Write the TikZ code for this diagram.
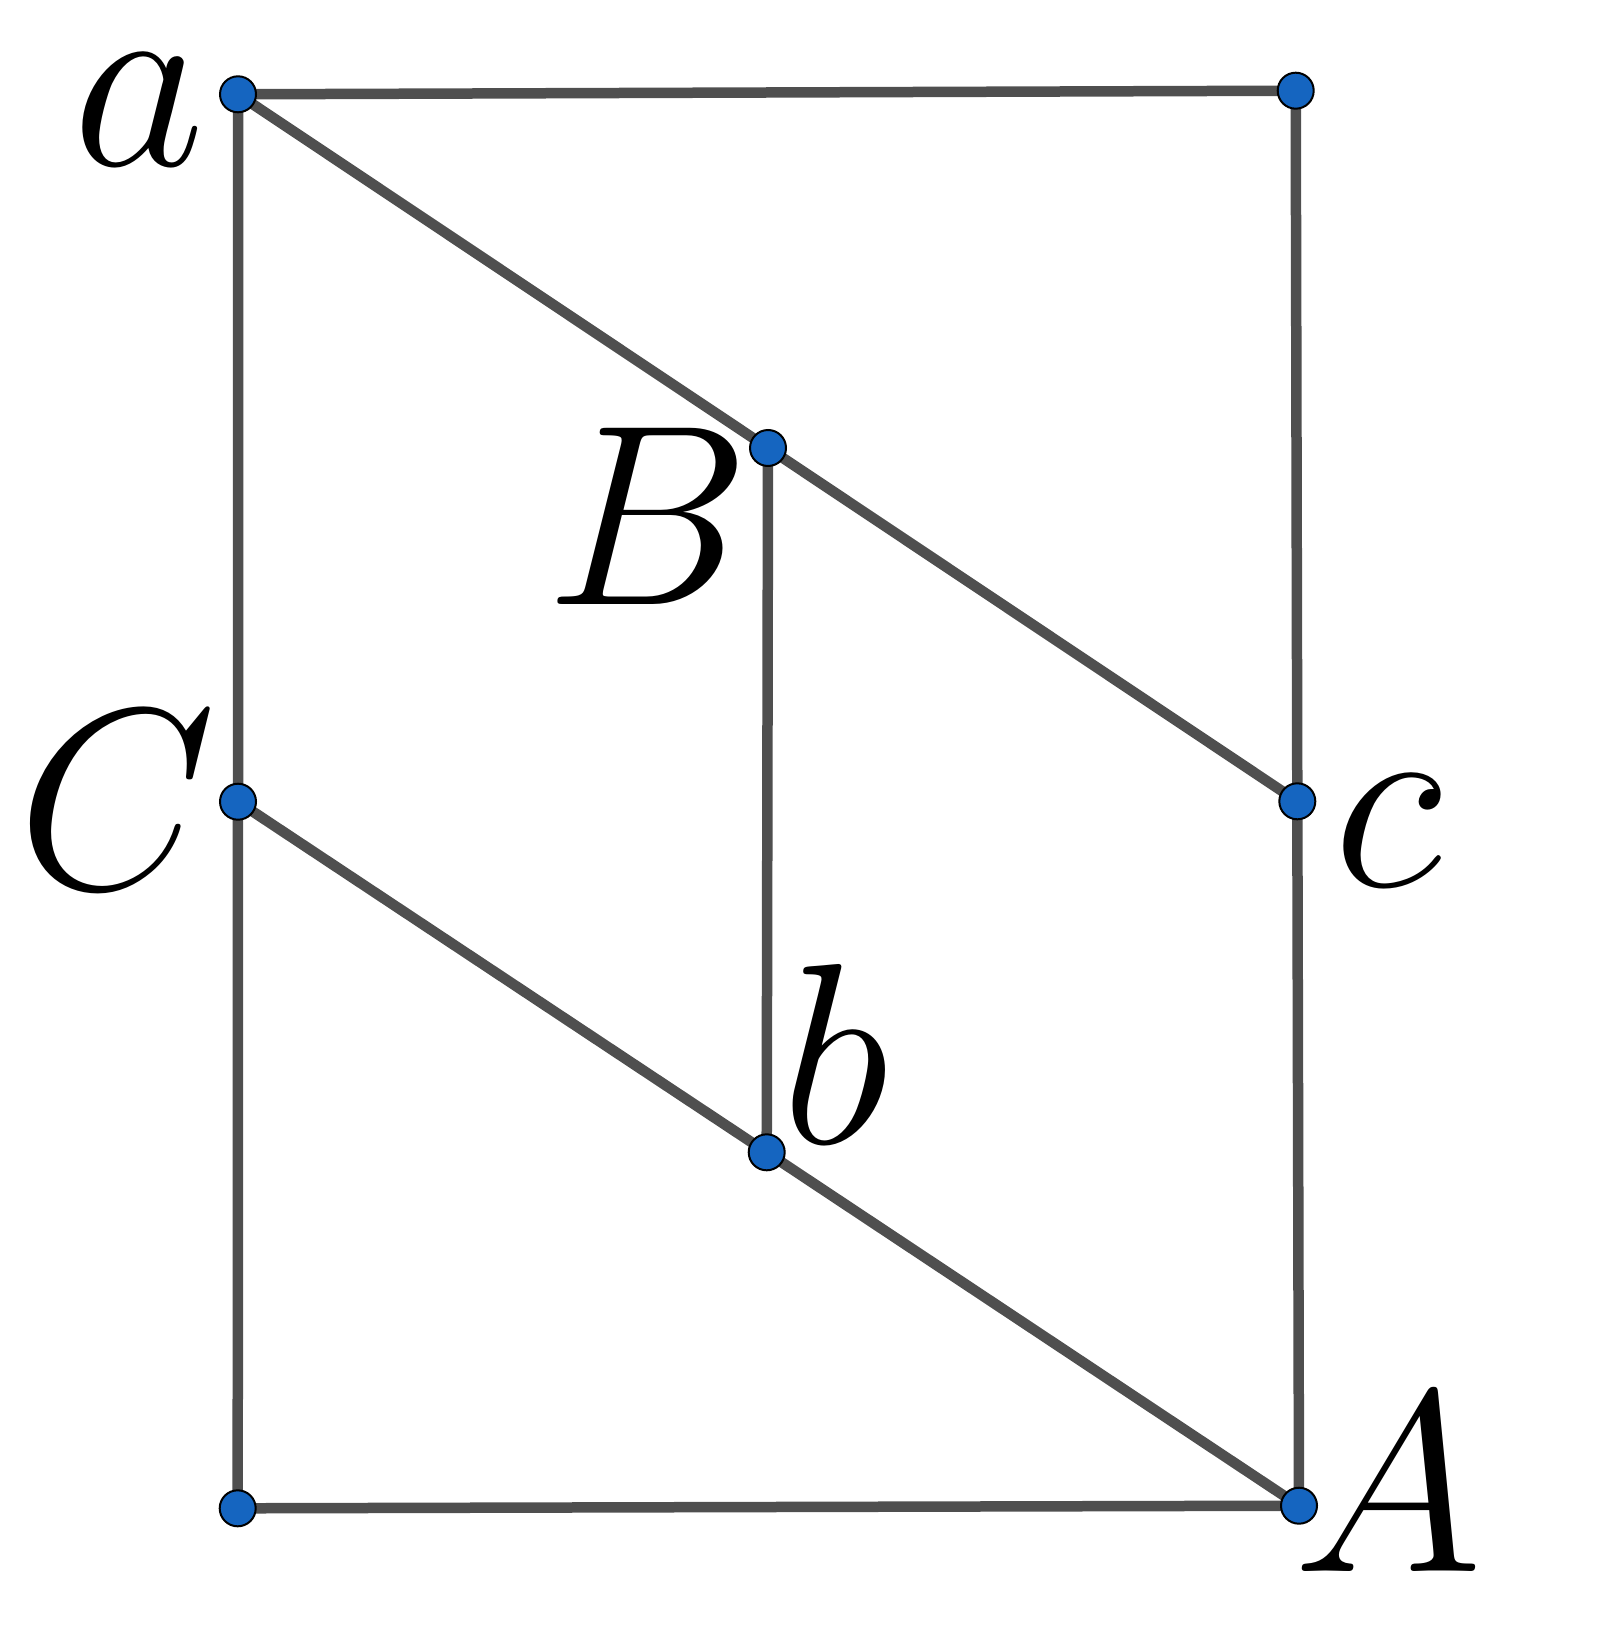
\documentclass[tikz,border=0pt]{standalone}
\definecolor{edgegray}{RGB}{79,79,79}
\definecolor{dotblue}{RGB}{21,101,192}
\tikzset{
  edge/.style={draw=edgegray,line width=10.5pt},
  dot/.style={circle,fill=dotblue,draw=black,line width=2pt,minimum size=36pt,inner sep=0pt},
  lab/.style={inner sep=0pt,anchor=base,font=\Huge,scale=10.37}
}
\begin{document}
\begin{tikzpicture}[x=1pt,y=-1pt]
\useasboundingbox (0,0) rectangle (1605,1637);
\coordinate (pa) at (238,94.3);
\coordinate (pTR) at (1295.7,90.7);
\coordinate (pB) at (768,448);
\coordinate (pC) at (238,801.7);
\coordinate (pc) at (1297.3,801.3);
\coordinate (pb) at (766.7,1152.3);
\coordinate (pBL) at (237.7,1508.3);
\coordinate (pA) at (1299,1505.7);
\draw[edge] (pa) -- (pTR);
\draw[edge] (pTR) -- (pc) -- (pA);
\draw[edge] (pa) -- (pC) -- (pBL);
\draw[edge] (pBL) -- (pA);
\draw[edge] (pa) -- (pB) -- (pc);
\draw[edge] (pC) -- (pb) -- (pA);
\draw[edge] (pB) -- (pb);
\foreach \p in {pa,pTR,pB,pC,pc,pb,pBL,pA} \node[dot] (d\p) at (\p) {};
\node[lab] (la) at (139,166) {$a$};
\node[lab] (lB) at (648,604) {$B$};
\node[lab] (lC) at (117,888) {$C$};
\node[lab] (lc) at (1388,886) {$c$};
\node[lab] (lb) at (835,1143) {$b$};
\node[lab] (lA) at (1388,1571) {$A$};
\end{tikzpicture}
\end{document}
